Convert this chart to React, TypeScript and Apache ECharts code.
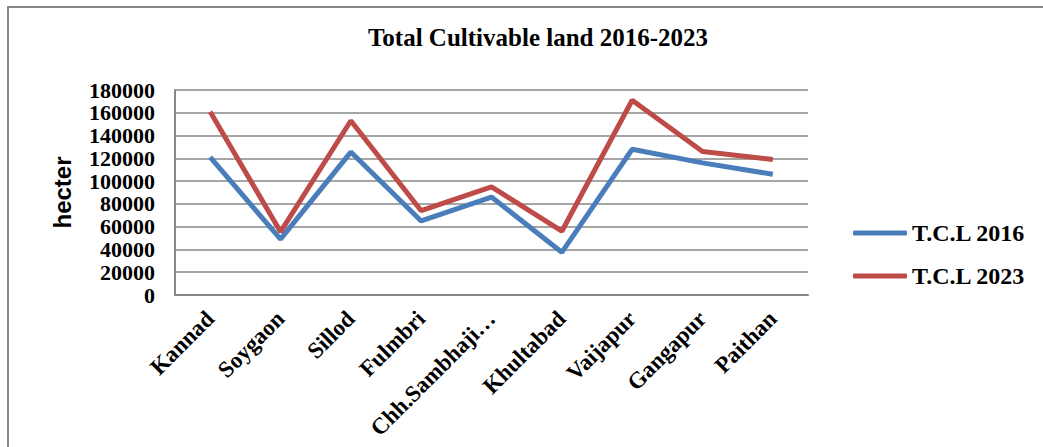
import React, { useEffect, useRef } from "react";
import * as echarts from "echarts";

const categories = [
  "Kannad",
  "Soygaon",
  "Sillod",
  "Fulmbri",
  "Chh.Sambhaji…",
  "Khultabad",
  "Vaijapur",
  "Gangapur",
  "Paithan",
];
const tcl2016 = [121000, 49000, 125500, 65000, 86000, 37500, 128000, 116000, 106000];
const tcl2023 = [161000, 55500, 153000, 74000, 95000, 56000, 171000, 126000, 119000];
const seriesNames = ["T.C.L 2016", "T.C.L 2023"];
const titleText = "Total Cultivable land 2016-2023";
const yAxisName = "hecter";

const SERIF = "'Liberation Serif', 'Times New Roman', serif";
const SANS = "'Liberation Sans', Arial, sans-serif";

export default function App() {
  const ref = useRef<HTMLDivElement>(null);
  useEffect(() => {
    if (!ref.current) return;
    const chart = echarts.init(ref.current, null, { renderer: "svg" });
    chart.setOption({
      animation: false,
      backgroundColor: "#ffffff",
      title: {
        text: titleText,
        left: 533,
        textAlign: "center",
        top: 20,
        textStyle: { fontFamily: SERIF, fontWeight: "bold", fontSize: 25, color: "#000" },
      },
      graphic: [
        {
          type: "rect",
          shape: { x: 8, y: 7, width: 1100, height: 500 },
          style: { fill: "none", stroke: "#878787", lineWidth: 2 },
          silent: true,
        },
      ],
      legend: {
        orient: "vertical",
        left: 848,
        top: 216,
        itemWidth: 54,
        itemHeight: 5,
        itemGap: 19,
        icon: "roundRect",
        textStyle: { fontFamily: SERIF, fontWeight: "bold", fontSize: 24, color: "#000", lineHeight: 24 },
        data: seriesNames,
      },
      grid: { left: 175, right: 235, top: 90, bottom: 152, containLabel: false },
      xAxis: {
        type: "category",
        data: categories,
        boundaryGap: true,
        axisTick: { show: false },
        axisLine: { show: true, lineStyle: { color: "#878787", width: 2 } },
        axisLabel: {
          rotate: 45,
          margin: 20,
          interval: 0,
          fontFamily: SERIF,
          fontWeight: "bold",
          fontSize: 23,
          color: "#000",
        },
      },
      yAxis: {
        type: "value",
        min: 0,
        max: 180000,
        interval: 20000,
        name: yAxisName,
        nameLocation: "middle",
        nameGap: 101,
        nameTextStyle: { fontFamily: SANS, fontWeight: "bold", fontSize: 24, color: "#000" },
        axisLine: { show: true, lineStyle: { color: "#878787", width: 2 } },
        axisTick: { show: false },
        splitLine: { lineStyle: { color: "#878787", width: 1.5 } },
        axisLabel: {
          margin: 20,
          showMinLabel: true,
          showMaxLabel: true,
          hideOverlap: false,
          formatter: (v: number) => String(v),
          fontFamily: SERIF,
          fontWeight: "bold",
          fontSize: 22,
          lineHeight: 22,
          color: "#000",
        },
      },
      series: [
        {
          name: seriesNames[0],
          type: "line",
          data: tcl2016,
          symbol: "none",
          color: "#4A7EBB",
          lineStyle: { width: 5, color: "#4A7EBB" },
        },
        {
          name: seriesNames[1],
          type: "line",
          data: tcl2023,
          symbol: "none",
          color: "#BE4B48",
          lineStyle: { width: 5, color: "#BE4B48" },
        },
      ],
    });
    return () => chart.dispose();
  }, []);
  return (
    <div
      ref={ref}
      style={{ position: "fixed", left: 0, top: 0, width: 1043, height: 447, background: "#fff" }}
    />
  );
}
